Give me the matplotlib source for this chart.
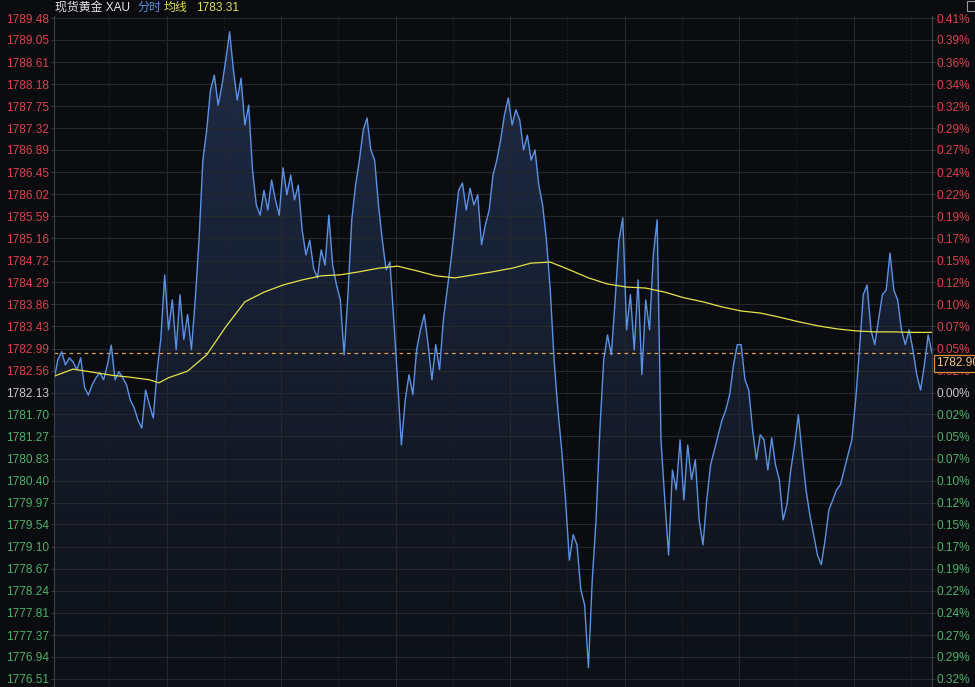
import matplotlib.pyplot as plt
import numpy as np
from matplotlib.colors import LinearSegmentedColormap
from matplotlib.patches import Polygon, Rectangle

plt.rcParams['font.family'] = ['Liberation Sans', 'Noto Sans CJK SC']

# 分时数据, 每2分钟一个点
minutes = np.arange(0, 462, 2)
price = [
    1782.38, 1782.77, 1782.93, 1782.67, 1782.81, 1782.73, 1782.58, 1782.81, 1782.23, 1782.08,
    1782.28, 1782.42, 1782.52, 1782.38, 1782.67, 1783.06, 1782.38, 1782.54, 1782.42, 1782.28,
    1781.98, 1781.83, 1781.59, 1781.43, 1782.18, 1781.89, 1781.63, 1782.54, 1783.20,
    1784.44, 1783.36, 1783.95, 1782.97, 1784.05, 1783.17, 1783.66, 1782.97, 1783.95, 1785.13,
    1786.69, 1787.28, 1788.07, 1788.36, 1787.77, 1788.16, 1788.66, 1789.21, 1788.46, 1787.87,
    1788.30, 1787.38, 1787.77, 1786.50, 1785.81, 1785.61,
    1786.10, 1785.71, 1786.30, 1785.91, 1785.61, 1786.54, 1786.01, 1786.40, 1785.91, 1786.20,
    1785.32, 1784.83, 1785.12, 1784.57, 1784.38, 1784.93, 1784.63, 1785.61, 1784.63, 1784.24,
    1783.95,
    1782.87, 1784.05, 1785.52, 1786.20, 1786.69, 1787.28, 1787.52, 1786.89, 1786.69, 1785.81,
    1785.12, 1784.54, 1784.69, 1783.56, 1782.38,
    1781.10, 1781.98, 1782.48, 1782.09, 1782.97, 1783.36, 1783.66, 1783.07, 1782.38, 1783.07,
    1782.58, 1783.56, 1784.14, 1784.73, 1785.42, 1786.10,
    1786.24, 1785.71, 1786.14, 1785.81, 1786.01, 1785.03, 1785.42, 1785.71, 1786.40, 1786.69,
    1787.09, 1787.58, 1787.91, 1787.38, 1787.68, 1787.48, 1786.89, 1787.18, 1786.69, 1786.89,
    1786.20, 1785.81, 1785.12,
    1784.14, 1782.77, 1781.79, 1781.00, 1780.02, 1778.84, 1779.34, 1779.14, 1778.26, 1777.96,
    1776.73, 1778.45, 1779.63, 1781.40,
    1782.77, 1783.26, 1782.87, 1783.95, 1785.12, 1785.56, 1783.36, 1784.05, 1782.97, 1784.34,
    1782.48, 1783.95, 1783.36, 1784.83, 1785.52,
    1781.20, 1780.02, 1778.94, 1780.61, 1780.22, 1781.20, 1780.02, 1781.10, 1780.42, 1780.81,
    1779.63, 1779.14, 1780.02, 1780.71, 1781.00, 1781.30, 1781.59, 1781.79, 1782.09, 1782.67,
    1783.07,
    1783.07, 1782.38, 1782.18, 1781.40, 1780.81, 1781.30, 1781.20, 1780.61, 1781.24, 1780.71,
    1780.42, 1779.63, 1779.93, 1780.61, 1781.10, 1781.69, 1780.91, 1780.22, 1779.73, 1779.34,
    1778.94,
    1778.75, 1779.24, 1779.83, 1780.02, 1780.22, 1780.32, 1780.61, 1780.91, 1781.20, 1781.98,
    1782.97, 1784.05, 1784.24, 1783.36, 1783.07, 1783.56, 1784.05, 1784.14, 1784.87, 1784.14,
    1783.95, 1783.36, 1783.07, 1783.36, 1782.97, 1782.48, 1782.18, 1782.67, 1783.26, 1782.90,
]

# 均线
avg_minutes = [0, 10, 20, 30, 40, 50, 55, 60, 70, 80, 90, 100, 110, 120, 130, 140, 150, 160,
               170, 180, 190, 200, 210, 220, 230, 240, 250, 260, 270, 280, 290, 300, 310, 320,
               330, 340, 350, 360, 370, 380, 390, 400, 410, 420, 430, 440, 450, 460]
avg_price = [1782.45, 1782.59, 1782.53, 1782.47, 1782.43, 1782.38, 1782.32, 1782.42, 1782.55,
             1782.87, 1783.42, 1783.91, 1784.10, 1784.24, 1784.34, 1784.42, 1784.44, 1784.50,
             1784.57, 1784.61, 1784.52, 1784.42, 1784.38, 1784.44, 1784.50, 1784.57, 1784.67,
             1784.69, 1784.54, 1784.38, 1784.26, 1784.20, 1784.18, 1784.10, 1783.99, 1783.91,
             1783.81, 1783.73, 1783.69, 1783.61, 1783.52, 1783.44, 1783.38, 1783.34, 1783.32,
             1783.32, 1783.31, 1783.31]

price_ticks = ['1789.48', '1789.05', '1788.61', '1788.18', '1787.75', '1787.32', '1786.89',
               '1786.45', '1786.02', '1785.59', '1785.16', '1784.72', '1784.29', '1783.86',
               '1783.43', '1782.99', '1782.56', '1782.13', '1781.70', '1781.27', '1780.83',
               '1780.40', '1779.97', '1779.54', '1779.10', '1778.67', '1778.24', '1777.81',
               '1777.37', '1776.94', '1776.51']
pre_close = 1782.13
last_price = 1782.90
avg_last = '1783.31'

bg = '#0b0c10'
grid_c = '#26282d'
spine_c = '#3a3d43'
red = '#d9434f'
green = '#4fb06a'
white = '#c9c9c9'

W, H = 975, 687
fig = plt.figure(figsize=(W / 100, H / 100), dpi=100, facecolor=bg)
ax = fig.add_axes([54 / W, 0, 878 / W, 671 / H])
ax.set_facecolor(bg)
y_top, y_bot = 1789.52, 1776.35

# 渐变填充
cmap = LinearSegmentedColormap.from_list('fill', ['#0d1016', '#1f2c48'])
grad = np.linspace(1, 0, 256).reshape(-1, 1)
img = ax.imshow(grad, cmap=cmap, extent=[0, 460, y_bot, y_top], aspect='auto',
                origin='upper', zorder=1)
verts = np.column_stack([np.r_[minutes, minutes[-1], minutes[0]],
                         np.r_[price, y_bot, y_bot]])
poly = Polygon(verts, closed=True, facecolor='none', edgecolor='none')
ax.add_patch(poly)
img.set_clip_path(poly)

tick_vals = [float(s) for s in price_ticks]
for v in tick_vals:
    ax.axhline(v, color=grid_c, lw=0.8, zorder=1.5)
for m in range(59, 460, 60):
    ax.axvline(m, color=grid_c, lw=0.8, zorder=1.5)
for m in range(29, 460, 60):
    ax.axvline(m, color=grid_c, lw=0.8, ls=(0, (1, 2)), zorder=1.5)

ax.axhline(last_price, color='#e09a4c', lw=0.9, ls=(0, (3, 3)), zorder=2.5)
ax.plot(minutes, price, color='#5b92e5', lw=1.0, zorder=3)
ax.plot(avg_minutes, avg_price, color='#e3e34a', lw=0.9, zorder=4)

ax.set_xlim(0, 460)
ax.set_ylim(y_bot, y_top)
ax.set_xticks([])


def lab_color(v):
    if abs(v - pre_close) < 0.001:
        return white
    return red if v > pre_close else green


ax.set_yticks(tick_vals)
ax.set_yticklabels(price_ticks)
ax2 = ax.twinx()
ax2.set_ylim(y_bot, y_top)
ax2.set_yticks(tick_vals)
ax2.set_yticklabels([f'{abs((v - pre_close) / pre_close * 100):.2f}%' for v in tick_vals])
for a in (ax, ax2):
    a.tick_params(axis='y', length=2.2, width=0.7, color=spine_c, pad=1.2, labelsize=8.6)
    for lab, v in zip(a.get_yticklabels(), tick_vals):
        lab.set_color(lab_color(v))
    for s in a.spines.values():
        s.set_color(spine_c)
        s.set_linewidth(0.8)
    a.spines['top'].set_visible(False)
    a.spines['bottom'].set_visible(False)

# 最新价标签
ax2.annotate(f'{last_price:.2f}', xy=(1, last_price), xycoords=('axes fraction', 'data'),
             xytext=(4, -10), textcoords='offset pixels', va='center', ha='left',
             fontsize=8.6, color='#f2c28a', zorder=10, annotation_clip=False,
             bbox=dict(boxstyle='square,pad=0.2', fc=bg, ec='#e0903a', lw=0.9))


def px(x, y):
    return x / W, 1 - y / H


fig.text(*px(55, 8), '现货黄金 XAU', color='#e4e4e4', fontsize=8.6, va='center')
fig.text(*px(137, 8), '分时', color='#5d8fe0', fontsize=8.6, va='center')
fig.text(*px(164, 8), '均线', color='#dede58', fontsize=8.6, va='center')
fig.text(*px(196, 8), avg_last, color='#dede58', fontsize=8.6, va='center')
fig.patches.append(Rectangle(px(967, 11), 8 / W, 10 / H, transform=fig.transFigure,
                             fill=False, ec='#9a9a9a', lw=0.8))

fig.savefig('out.png', dpi=100, facecolor=bg)
